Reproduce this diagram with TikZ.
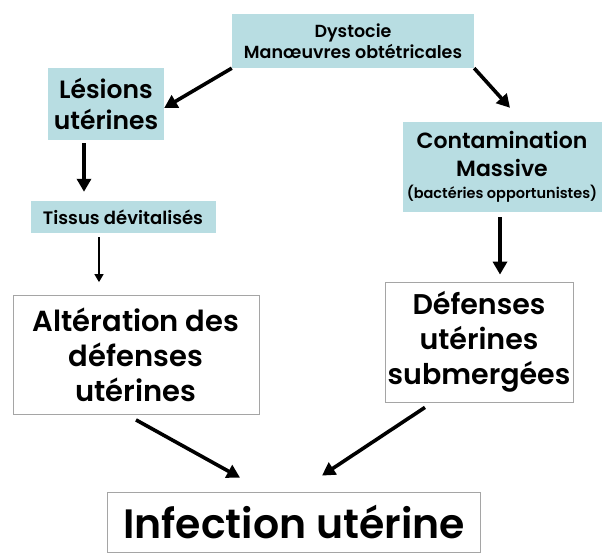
\documentclass[tikz,border=0pt]{standalone}
\usepackage{fontspec}
\setmainfont{Poppins}[UprightFont={* SemiBold}, BoldFont={* Bold}]
\usetikzlibrary{arrows.meta}
\definecolor{boxblue}{RGB}{184,221,226}
\definecolor{boxline}{RGB}{165,165,165}
\newcommand{\fsz}[2]{\fontsize{#1}{#2}\selectfont}
\begin{document}
\begin{tikzpicture}[x=1pt, y=-1pt,
			cause/.style  = {fill=boxblue, inner sep=0pt, align=center},
			effet/.style  = {draw=boxline, line width=0.8pt, fill=white, inner sep=0pt, align=center},
			bigarrow/.style = {-{Triangle[length=13pt, width=14pt]}, line width=3.6pt},
			thinarrow/.style = {-{Triangle[length=8pt, width=9pt]}, line width=1.6pt}]
			
			\useasboundingbox (0,0) rectangle (606,553);
			
			% causes
			\node[cause, minimum width=242pt, minimum height=54pt, font=\fsz{17.5}{21}] (dyst) at (353,41)
			{Dystocie\\Manœuvres obtétricales};
			\node[cause, minimum width=116pt, minimum height=72pt, font=\fsz{25}{31}] (lesions) at (106,104)
			{Lésions\\utérines};
			\node[cause, minimum width=185pt, minimum height=32pt, font=\fsz{18}{20}] (tissus) at (123,217)
			{Tissus dévitalisés};
			\node[cause, minimum width=199pt, minimum height=90pt, font=\fsz{22}{28}] (contam) at (502,167)
			{Contamination\\Massive\\[-6pt]{\fsz{14.5}{17}(bactéries opportunistes)}};
			
			% effets
			\node[effet, minimum width=246pt, minimum height=119pt, font=\fsz{29}{35}] (alter) at (136,355)
			{Altération des\\défenses\\utérines};
			\node[effet, minimum width=188pt, minimum height=120pt, font=\fsz{28.5}{35}] (defenses) at (479,342)
			{Défenses\\utérines\\submergées};
			\node[effet, minimum width=373pt, minimum height=60pt, font=\fsz{41}{48}] (infection) at (294,522)
			{Infection utérine};
			
			% fleches
			\draw[bigarrow] (dyst.south west) -- ([yshift=-4pt]lesions.east);
			\draw[bigarrow] (dyst.south east) -- ([shift={(8pt,14pt)}]contam.north);
			\draw[bigarrow] ([shift={(-22pt,-3pt)}]lesions.south) -- ([shift={(-39pt,9pt)}]tissus.north);
			\draw[thinarrow] ([shift={(-24pt,-4pt)}]tissus.south) -- ([shift={(-37pt,13pt)}]alter.north);
			\draw[bigarrow] ([shift={(-2pt,-5pt)}]contam.south) -- ([shift={(21pt,7pt)}]defenses.north);
			\draw[bigarrow] ([shift={(0pt,-5pt)}]alter.south) -- ([shift={(-54pt,14pt)}]infection.north);
			\draw[bigarrow] ([shift={(-54pt,-5pt)}]defenses.south) -- ([shift={(28pt,16pt)}]infection.north);
		\end{tikzpicture}
\end{document}
